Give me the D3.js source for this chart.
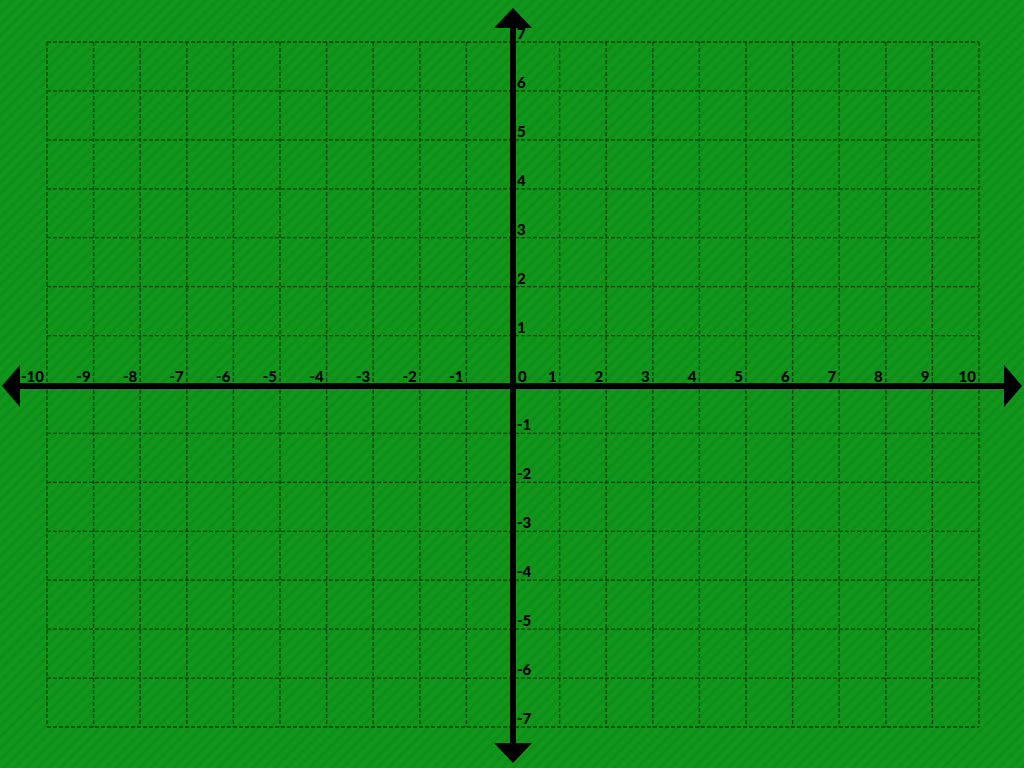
<!DOCTYPE html>
<html>
<head>
<meta charset="utf-8">
<script src="https://cdn.jsdelivr.net/npm/d3@7"></script>
<style>
  html, body { margin: 0; padding: 0; background: #0f9417; overflow: hidden; }
  svg { display: block; }
  .lbl { font-family: Lato, "DejaVu Sans", sans-serif; font-weight: 900; font-size: 15px; fill: #000; }
</style>
</head>
<body>
<svg id="chart"></svg>
<script>
let width = 1024
let height = 768

// tick values on each axis
let xTicks = [-10, -9, -8, -7, -6, -5, -4, -3, -2, -1, 0, 1, 2, 3, 4, 5, 6, 7, 8, 9, 10]
let yTicks = [-7, -6, -5, -4, -3, -2, -1, 0, 1, 2, 3, 4, 5, 6, 7]
let xLabels = ['-10', '-9', '-8', '-7', '-6', '-5', '-4', '-3', '-2', '-1', '0', '1', '2', '3', '4', '5', '6', '7', '8', '9', '10']
let yLabels = ['-7', '-6', '-5', '-4', '-3', '-2', '-1', '0', '1', '2', '3', '4', '5', '6', '7']

let svg = d3.select('#chart')
            .attr('width', width)
            .attr('height', height)

let x = d3.scaleLinear().domain([-10, 10]).range([47, 979])
let y = d3.scaleLinear().domain([-7, 7]).range([727, 42])

// striped green background
let defs = svg.append('defs')
let pat = defs.append('pattern')
            .attr('id', 'stripes')
            .attr('patternUnits', 'userSpaceOnUse')
            .attr('width', 8)
            .attr('height', 8)
            .attr('patternTransform', 'rotate(45)')
pat.append('rect').attr('width', 8).attr('height', 8).attr('fill', '#10961a')
pat.append('rect').attr('width', 3).attr('height', 8).attr('fill', '#0e8f17')

svg.append('rect')
    .attr('width', width)
    .attr('height', height)
    .attr('fill', 'url(#stripes)')

// dashed grid
let grid = svg.append('g')
            .attr('stroke', '#043806')
            .attr('stroke-opacity', 0.9)
            .attr('stroke-width', 1.3)
            .attr('stroke-dasharray', '4,2')

grid.selectAll('.vx')
    .data(xTicks.filter(d => d !== 0)).enter()
    .append('line').attr('class', 'vx')
    .attr('x1', d => x(d)).attr('x2', d => x(d))
    .attr('y1', y(7)).attr('y2', y(-7))

grid.selectAll('.hy')
    .data(yTicks.filter(d => d !== 0)).enter()
    .append('line').attr('class', 'hy')
    .attr('x1', x(-10)).attr('x2', x(10))
    .attr('y1', d => y(d)).attr('y2', d => y(d))

// main axes
let x0 = x(0)
let y0 = y(0) + 1.5

svg.append('line')
    .attr('x1', 18).attr('x2', width - 18)
    .attr('y1', y0).attr('y2', y0)
    .attr('stroke', '#000').attr('stroke-width', 6)

svg.append('line')
    .attr('x1', x0).attr('x2', x0)
    .attr('y1', 26).attr('y2', height - 24)
    .attr('stroke', '#000').attr('stroke-width', 6)

let arrows = [
    [[2, y0], [20, y0 - 21], [20, y0 + 21]],
    [[1022, y0], [1004, y0 - 21], [1004, y0 + 21]],
    [[x0, 8], [x0 - 19, 28], [x0 + 19, 28]],
    [[x0, 763], [x0 - 19, 743], [x0 + 19, 743]]
]
svg.selectAll('.arrow')
    .data(arrows).enter()
    .append('path').attr('class', 'arrow')
    .attr('d', d => 'M' + d.join('L') + 'Z')
    .attr('fill', '#000')

// x labels sit just left of each grid line, above the axis
svg.selectAll('.xl')
    .data(xTicks).enter()
    .append('text').attr('class', 'lbl xl')
    .attr('x', d => d === 0 ? x(d) + 5 : x(d) - 3)
    .attr('y', y0 - 4)
    .attr('text-anchor', d => d === 0 ? 'start' : 'end')
    .text((d, i) => xLabels[i])

// y labels sit right of the axis, just above each grid line
svg.selectAll('.yl')
    .data(yTicks.filter(d => d !== 0)).enter()
    .append('text').attr('class', 'lbl yl')
    .attr('x', x0 + 4)
    .attr('y', d => y(d) - 3)
    .text(d => yLabels[yTicks.indexOf(d)])
</script>
</body>
</html>
